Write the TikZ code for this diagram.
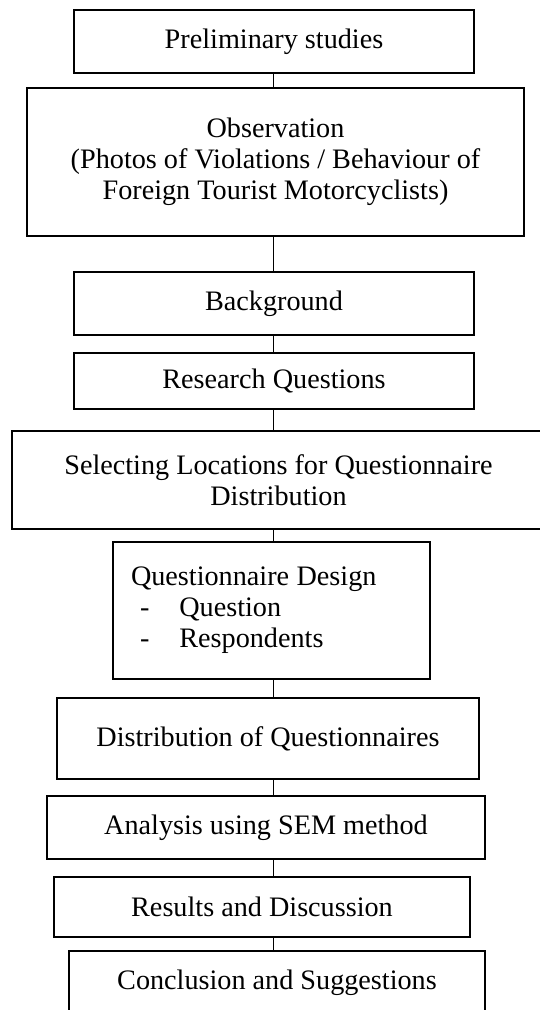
\documentclass[tikz,border=0pt]{standalone}
\usepackage{fontspec}
\setmainfont{Liberation Serif}
\tikzset{
    stage/.style = {draw, line width=1.4pt, align=center, inner sep=0pt,
    font=\fontsize{28.2}{31}\selectfont},
    link/.style = {line width=0.8pt}
}

\begin{document}
\begin{tikzpicture}[x=1pt,y=-1pt]
\useasboundingbox (0,0) rectangle (539,1010);
\coordinate (spine) at (273,0);
\node [stage, minimum width=400pt, minimum height=63pt] (prelim) at (274,41.5) {Preliminary studies};
\node [stage, minimum width=497pt, minimum height=148pt] (obs) at (275.5,162) {Observation\\(Photos of Violations / Behaviour of\\Foreign Tourist Motorcyclists)};
\node [stage, minimum width=400pt, minimum height=63pt] (backgr) at (274,303.5) {Background};
\node [stage, minimum width=400pt, minimum height=56pt] (resq) at (274,381) {Research Questions};
\node [stage, minimum width=533pt, minimum height=98pt] (locat) at (278.5,480) {Selecting Locations for Questionnaire\\Distribution};
\node [stage, minimum width=317pt, minimum height=137pt, align=left, text width=281pt, inner xsep=18pt] (qdesign) at (271.5,610.5) {Questionnaire\hspace{-2pt} Design\\\hspace*{9pt}-\hspace*{30pt}Question\\\hspace*{9pt}-\hspace*{30pt}Respondents};
\node [stage, minimum width=422pt, minimum height=81pt] (distr) at (268,738.5) {Distribution of Questionnaires};
\node [stage, minimum width=438pt, minimum height=63pt] (analysis) at (266,827.5) {Analysis using SEM method};
\node [stage, minimum width=416pt, minimum height=60pt] (results) at (262,907) {Results and Discussion};
\node [stage, minimum width=416pt, minimum height=63pt] (concl) at (277,982.5) {Conclusion and Suggestions};
\foreach \a/\b in {prelim/obs, obs/backgr, backgr/resq, resq/locat, locat/qdesign, qdesign/distr, distr/analysis, analysis/results, results/concl}
    \draw [link] (\a.south -| spine) -- (\b.north -| spine);
\end{tikzpicture}
\end{document}
